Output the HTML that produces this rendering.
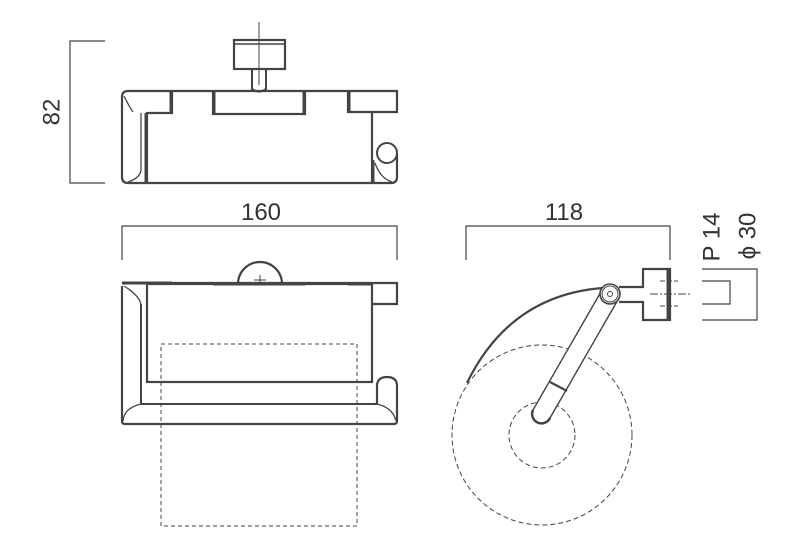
<!DOCTYPE html>
<html><head><meta charset="utf-8"><style>html,body{margin:0;padding:0;background:#fff}svg{display:block}</style></head><body>
<svg width="800" height="552" viewBox="0 0 800 552" xmlns="http://www.w3.org/2000/svg" font-family="Liberation Sans, sans-serif" fill="none" stroke="#444" stroke-width="1.5">
<!-- dim 82 -->
<path d="M105 41H70V183H105" stroke-width="1.2"/>
<text x="53" y="112" font-size="24" fill="#333" stroke="none" text-anchor="middle" dominant-baseline="middle" transform="rotate(-90 53 112)">82</text>
<!-- top view -->
<path d="M259 22V85" stroke-width="1"/>
<rect x="234" y="40" width="51" height="29" stroke-width="2.2"/>
<line x1="234" y1="44" x2="285" y2="44"/>
<path d="M252 69V89Q259 94 266 89V69" stroke-width="2"/>
<path d="M128 91H397V112H372" stroke-width="2.2"/>
<path d="M172 91V113H147V183H372V112" stroke-width="2.2"/>
<path d="M213 91V114H305V91" stroke-width="2.2"/>
<path d="M348 91V112H372" stroke-width="2.2"/>
<path d="M128 91Q122 91 122 97V177Q122 183 128 183H147" stroke-width="2.2"/>
<path d="M124 96Q130 108 133 112" stroke-width="1.3"/>
<path d="M141 113V170Q140 178 128 182" stroke-width="1.3"/>
<line x1="146" y1="113" x2="146" y2="183" stroke-width="3"/>
<line x1="171" y1="91" x2="171" y2="113" stroke-width="3"/><line x1="214" y1="91" x2="214" y2="114" stroke-width="3"/><line x1="304" y1="91" x2="304" y2="114" stroke-width="3"/><line x1="349" y1="91" x2="349" y2="112" stroke-width="3"/>
<path d="M372 183H391Q397 183 397 177V153" stroke-width="2.2"/>
<circle cx="387" cy="153" r="10" stroke-width="2"/>
<path d="M375 163Q380 178 392 182" stroke-width="1.3"/>
<line x1="373" y1="160" x2="373" y2="183" stroke-width="3"/>
<!-- dim 160 -->
<path d="M122 260V226H397V260" stroke-width="1.2"/>
<text x="261" y="220" font-size="24" fill="#333" stroke="none" text-anchor="middle">160</text>
<!-- front view -->
<path d="M238 284A22 22 0 0 1 282 284" stroke-width="2.2"/>
<path d="M254 280H266M260 275V285" stroke-width="1"/>
<path d="M122 283H397V304H372" stroke-width="2.2"/>
<rect x="147" y="284" width="225" height="98" stroke-width="2.2"/>
<path d="M213 284H305M122 283H172M348 284H372" stroke-width="3"/>
<path d="M122 286V421Q122 424 125 424H394Q397 424 397 421V386Q397 377 387 377Q377 377 377 386V404" stroke-width="2.2"/>
<path d="M141 304V404H377" stroke-width="2"/>
<path d="M124 286Q140 296 141 305M141 404Q124 408 123 421M377 404Q393 408 396 421" stroke-width="1.3"/>
<rect x="161" y="344" width="196" height="182" stroke-dasharray="4 3" stroke-width="1"/>
<!-- dim 118 -->
<path d="M466 260V226H670V260" stroke-width="1.2"/>
<text x="564" y="220" font-size="24" fill="#333" stroke="none" text-anchor="middle">118</text>
<!-- side view -->
<circle cx="542" cy="435" r="90" stroke-dasharray="5 3" stroke-width="1"/>
<circle cx="542" cy="435" r="33" stroke-dasharray="5 3" stroke-width="1"/>
<path d="M603 288Q510 295 467 383" stroke-width="2.2"/>
<path d="M603 290Q512 298 469 382" stroke="#fff" stroke-width="0.6"/>
<path d="M602 290L533 410A9 9 0 0 0 550 418L619 298" stroke-width="1.4" fill="#fff"/>
<path d="M533 410A9 9 0 0 0 550 418" stroke-width="2.5"/>
<line x1="550" y1="382" x2="567" y2="391" stroke-width="2.2"/>
<circle cx="610" cy="294" r="10" stroke-width="1.6" fill="#fff"/>
<circle cx="610" cy="294" r="8" stroke-width="1"/>
<circle cx="610" cy="294" r="2.5" stroke-width="1"/>
<path d="M619 287H643V269H670V320H643V302H619" stroke-width="2.2"/>
<line x1="668" y1="269" x2="668" y2="320" stroke-width="3"/>
<path d="M650 294H692" stroke-dasharray="8 2 2 2" stroke-width="1"/>
<path d="M660 281H678M660 306H678" stroke-dasharray="5 2" stroke-width="1"/>
<path d="M702 281H730V304H702" stroke-width="1.2"/>
<path d="M702 269H757V320H702" stroke-width="1.2"/>
<text x="713" y="237" font-size="24" fill="#333" stroke="none" text-anchor="middle" dominant-baseline="middle" transform="rotate(-90 713 237)">P 14</text>
<text x="749" y="236" font-size="24" fill="#333" stroke="none" text-anchor="middle" dominant-baseline="middle" transform="rotate(-90 749 236)">ϕ 30</text>
</svg>
</body></html>
